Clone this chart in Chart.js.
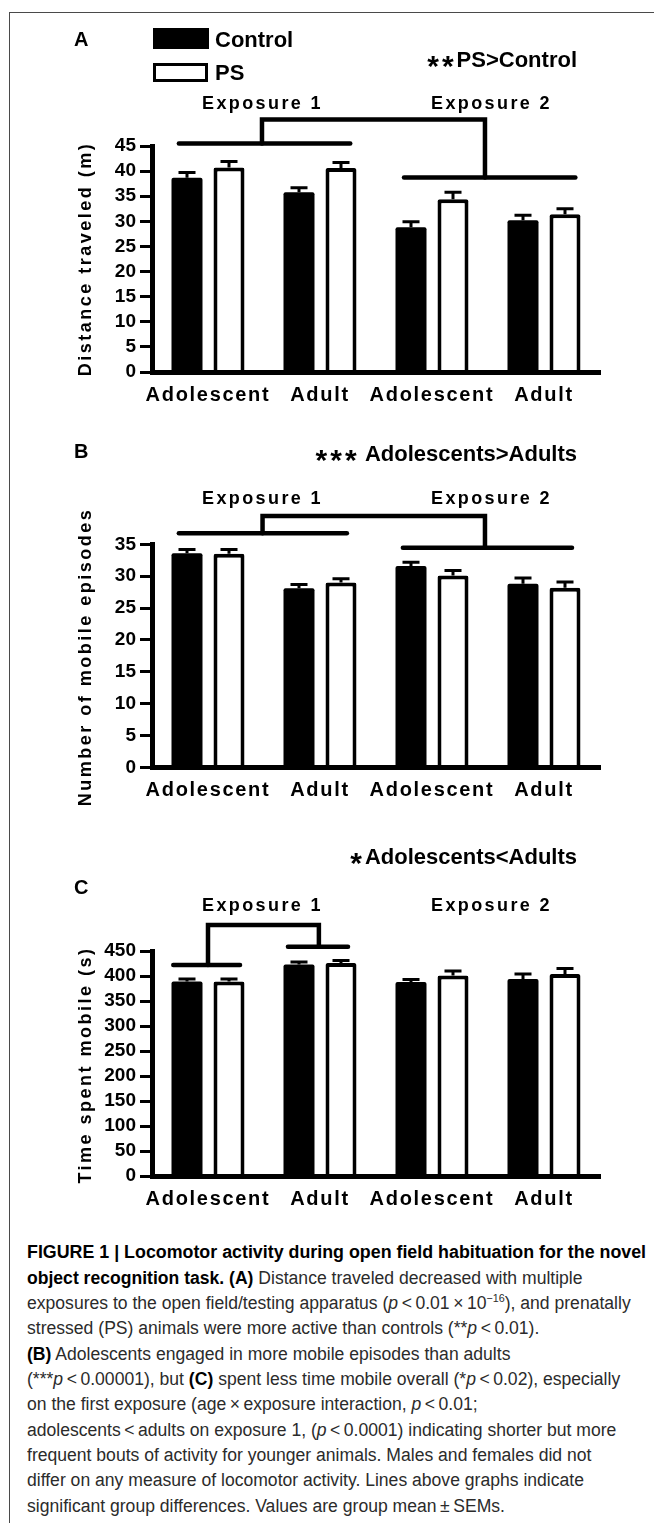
<!DOCTYPE html>
<html><head><meta charset="utf-8">
<script src="https://cdn.jsdelivr.net/npm/chart.js@4/dist/chart.umd.min.js"></script>
<style>
html,body{margin:0;padding:0;background:#fff;}
body{width:654px;height:1523px;position:relative;overflow:hidden;font-family:"Liberation Sans",Arial,sans-serif;color:#000;}
#frame{position:absolute;left:9px;top:11.5px;width:700px;height:1600px;border-left:1px solid #4a4a4a;border-top:1px solid #4a4a4a;}
canvas{position:absolute;left:0;}
.t{position:absolute;white-space:nowrap;line-height:1;}
.pl{font-weight:bold;font-size:20px;left:74px;}
.lg{font-weight:bold;font-size:22px;left:215px;}
.sig{font-weight:bold;font-size:22px;right:77px;}
.sig .a{font-size:30px;line-height:0;position:relative;top:9px;letter-spacing:3px;}
.exp{font-weight:bold;font-size:18px;letter-spacing:2.4px;transform:translateX(-50%);}
.yt{font-weight:bold;font-size:18px;letter-spacing:2.5px;transform:translate(-50%,-50%) rotate(-90deg);}
.box{position:absolute;box-sizing:border-box;}
#cap{position:absolute;left:27px;top:1240.3px;transform-origin:0 0;font-family:"Liberation Sans Narrow","Liberation Sans",sans-serif;font-size:18px;color:#2b2b2b;}
#cap div{white-space:nowrap;height:25.33px;line-height:25.33px;}
#cap b{color:#000;}
#cap sup{font-size:11px;line-height:0;}
</style>
</head><body>
<div id="frame"></div>
<canvas id="cA" width="654" height="410" style="top:0px;width:654px;height:410px"></canvas>
<canvas id="cB" width="654" height="410" style="top:410px;width:654px;height:410px"></canvas>
<canvas id="cC" width="654" height="400" style="top:820px;width:654px;height:400px"></canvas>

<div class="t pl" style="top:28.7px">A</div>
<div class="box" style="left:153px;top:28px;width:56px;height:21px;background:#000"></div>
<div class="t lg" style="top:29.2px">Control</div>
<div class="box" style="left:153px;top:63px;width:55px;height:19px;border:3.5px solid #000;background:#fff"></div>
<div class="t lg" style="top:62.2px">PS</div>
<div class="t sig" style="top:49.2px"><span class="a">**</span>PS&gt;Control</div>
<div class="t exp" style="left:262.5px;top:94.2px">Exposure 1</div>
<div class="t exp" style="left:491.5px;top:94.2px">Exposure 2</div>
<div class="t yt" style="left:84.5px;top:258.5px">Distance traveled (m)</div>

<div class="t pl" style="top:441.2px">B</div>
<div class="t sig" style="top:443.2px"><span class="a">***</span> Adolescents&gt;Adults</div>
<div class="t exp" style="left:262.5px;top:489.2px">Exposure 1</div>
<div class="t exp" style="left:491.5px;top:489.2px">Exposure 2</div>
<div class="t yt" style="left:84.5px;top:657px">Number of mobile episodes</div>

<div class="t sig" style="top:846.2px"><span class="a">*</span>Adolescents&lt;Adults</div>
<div class="t pl" style="top:877.2px">C</div>
<div class="t exp" style="left:262.5px;top:896.2px">Exposure 1</div>
<div class="t exp" style="left:491.5px;top:896.2px">Exposure 2</div>
<div class="t yt" style="left:84.5px;top:1065px">Time spent mobile (s)</div>

<div id="cap">
<div id="l1"><b>FIGURE 1 | Locomotor activity during open field habituation for the novel</b></div>
<div><b>object recognition task. (A)</b> Distance traveled decreased with multiple</div>
<div id="l3">exposures to the open field/testing apparatus (<i>p</i>&thinsp;&lt;&thinsp;0.01&thinsp;×&thinsp;10<sup>−16</sup>), and prenatally</div>
<div>stressed (PS) animals were more active than controls (**<i>p</i>&thinsp;&lt;&thinsp;0.01).</div>
<div><b>(B)</b> Adolescents engaged in more mobile episodes than adults</div>
<div>(***<i>p</i>&thinsp;&lt;&thinsp;0.00001), but <b>(C)</b> spent less time mobile overall (*<i>p</i>&thinsp;&lt;&thinsp;0.02), especially</div>
<div>on the first exposure (age&thinsp;×&thinsp;exposure interaction, <i>p</i>&thinsp;&lt;&thinsp;0.01;</div>
<div>adolescents&thinsp;&lt;&thinsp;adults on exposure 1, (<i>p</i>&thinsp;&lt;&thinsp;0.0001) indicating shorter but more</div>
<div>frequent bouts of activity for younger animals. Males and females did not</div>
<div>differ on any measure of locomotor activity. Lines above graphs indicate</div>
<div>significant group differences. Values are group mean&thinsp;±&thinsp;SEMs.</div>
</div>

<script>
// ---- data ----
const categories = ['Adolescent', 'Adult', 'Adolescent', 'Adult'];

const distanceControl    = [38.7, 35.8, 28.8, 30.2];
const distanceControlSem = [1.0, 0.9, 1.1, 1.0];
const distancePS         = [40.7, 40.6, 34.4, 31.4];
const distancePSSem      = [1.2, 1.1, 1.4, 1.1];
const distanceTicks      = [0, 5, 10, 15, 20, 25, 30, 35, 40, 45];

const episodesControl    = [33.6, 28.1, 31.6, 28.8];
const episodesControlSem = [0.6, 0.6, 0.6, 0.9];
const episodesPS         = [33.5, 29.0, 30.1, 28.2];
const episodesPSSem      = [0.7, 0.6, 0.8, 0.9];
const episodesTicks      = [0, 5, 10, 15, 20, 25, 30, 35];

const timeControl    = [389, 423, 388, 394];
const timeControlSem = [5, 5, 5, 10];
const timePS         = [389, 426, 401, 404];
const timePSSem      = [5, 5, 9, 11];
const timeTicks      = [0, 50, 100, 150, 200, 250, 300, 350, 400, 450];

// significance brackets as polylines, in (category index, value) units
const bracketsA = [
  [[-0.26, 45.5], [1.27, 45.5]],
  [[0.482, 45.5], [0.482, 50.3], [2.473, 50.3], [2.473, 38.75]],
  [[1.75, 38.75], [3.28, 38.75]]
];
const bracketsB = [
  [[-0.26, 36.73], [1.24, 36.73]],
  [[0.487, 36.73], [0.487, 39.44], [2.473, 39.44], [2.473, 34.47]],
  [[1.74, 34.47], [3.25, 34.47]]
];
const bracketsC = [
  [[-0.31, 422], [0.286, 422]],
  [[0.0, 422], [0.0, 502], [0.99, 502], [0.99, 458.6]],
  [[0.714, 458.6], [1.25, 458.6]]
];

// ---- plugins ----
const errorBars = {
  id: 'errorBars',
  afterDatasetsDraw(chart) {
    const ctx = chart.ctx, y = chart.scales.y;
    chart.data.datasets.forEach((ds, di) => {
      chart.getDatasetMeta(di).data.forEach((bar, i) => {
        const v = ds.data[i], e = ds.sem[i];
        const yb = y.getPixelForValue(v), yt = y.getPixelForValue(v + e);
        ctx.save();
        ctx.strokeStyle = '#000'; ctx.lineWidth = 3; ctx.lineCap = 'butt';
        ctx.beginPath();
        ctx.moveTo(bar.x, yb); ctx.lineTo(bar.x, yt);
        ctx.moveTo(bar.x - 8.5, yt); ctx.lineTo(bar.x + 8.5, yt);
        ctx.stroke();
        ctx.restore();
      });
    });
  }
};
const brackets = {
  id: 'brackets',
  afterDraw(chart, args, opts) {
    const ctx = chart.ctx, xs = chart.scales.x, ys = chart.scales.y;
    ctx.save();
    ctx.strokeStyle = '#000'; ctx.lineWidth = 4.5; ctx.lineCap = 'round'; ctx.lineJoin = 'miter';
    (opts.lines || []).forEach(line => {
      ctx.beginPath();
      line.forEach((p, k) => {
        const px = xs.getPixelForValue(p[0]), py = ys.getPixelForValue(p[1]);
        if (k === 0) ctx.moveTo(px, py); else ctx.lineTo(px, py);
      });
      ctx.stroke();
    });
    ctx.restore();
  }
};
const spacing = {
  id: 'spacing',
  beforeDraw(chart) { chart.ctx.letterSpacing = '1.7px'; },
  afterDatasetsDraw(chart) { chart.ctx.letterSpacing = '0px'; }
};

function makeChart(id, control, controlSem, ps, psSem, ticks, lines, pad) {
  return new Chart(document.getElementById(id), {
    type: 'bar',
    data: {
      labels: categories,
      datasets: [
        { label: 'Control', data: control, sem: controlSem, backgroundColor: '#000', borderColor: '#000', borderWidth: 0, borderRadius: 2, borderSkipped: 'bottom' },
        { label: 'PS', data: ps, sem: psSem, backgroundColor: '#fff', borderColor: '#000', borderWidth: 4, borderRadius: 2, borderSkipped: 'bottom' }
      ]
    },
    options: {
      responsive: false, animation: false, devicePixelRatio: 1,
      categoryPercentage: 0.75, barPercentage: 0.738,
      layout: { padding: pad },
      plugins: { legend: { display: false }, tooltip: { enabled: false }, brackets: { lines: lines } },
      scales: {
        x: {
          grid: { display: false, drawTicks: false },
          border: { display: true, color: '#000', width: 5, z: 1 },
          ticks: { color: '#000', font: { family: 'Liberation Sans', size: 20, weight: 'bold' }, padding: 11, maxRotation: 0, autoSkip: false },
          afterFit: s => { s.height = 36; }
        },
        y: {
          min: ticks[0], max: ticks[ticks.length - 1],
          afterBuildTicks: s => { s.ticks = ticks.map(v => ({ value: v })); },
          grid: { drawOnChartArea: false, drawTicks: true, color: '#000', tickLength: 12, lineWidth: 3, tickWidth: 3 },
          border: { display: true, color: '#000', width: 5, z: 1 },
          ticks: { color: '#000', font: { family: 'Liberation Sans', size: 19, weight: 'bold' }, padding: 4, z: 1, autoSkip: false },
          afterFit: s => { s.width = 50; }
        }
      }
    },
    plugins: [spacing, errorBars, brackets]
  });
}

makeChart('cA', distanceControl, distanceControlSem, distancePS, distancePSSem, distanceTicks, bracketsA, { left: 102, right: 54, top: 146, bottom: 2 });
makeChart('cB', episodesControl, episodesControlSem, episodesPS, episodesPSSem, episodesTicks, bracketsB, { left: 102, right: 54, top: 134.3, bottom: 16.7 });
makeChart('cC', timeControl, timeControlSem, timePS, timePSSem, timeTicks, bracketsC, { left: 102, right: 54, top: 131, bottom: 8 });

// fit caption widths to the reference line lengths
(function fitCaption() {
  const cap = document.getElementById('cap');
  const l1 = document.getElementById('l1'), l3 = document.getElementById('l3');
  const w3 = l3.scrollWidth, w1 = l1.scrollWidth;
  const f = 610 / w3;
  cap.style.transform = 'scaleX(' + f + ')';
  const f1 = (619 / w1) / f;
  l1.style.transformOrigin = '0 0';
  l1.style.transform = 'scaleX(' + f1 + ')';
})();
</script>
</body></html>
